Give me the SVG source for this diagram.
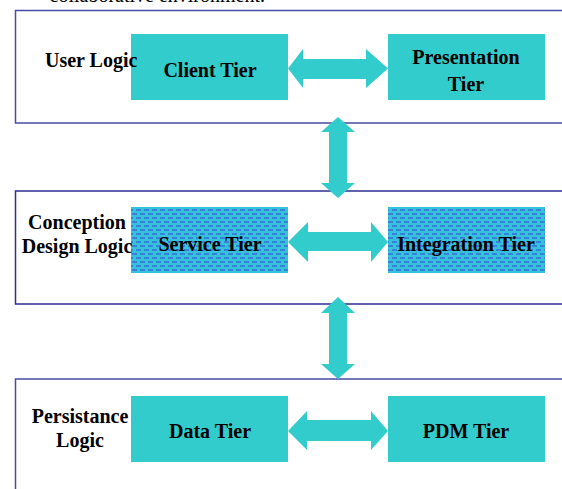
<svg xmlns="http://www.w3.org/2000/svg" width="562" height="489" viewBox="0 0 562 489">
<style>
.frame{fill:none;stroke:#4a4aa8;stroke-width:1.5}
.tier{fill:#33cccc}
.pat{fill:url(#dots)}
.arrow{fill:#33cccc}
text{font-family:"Liberation Serif","Times New Roman",serif;font-size:20px;font-weight:bold;fill:#000}
.c{text-anchor:middle}
</style>
<defs>
<pattern id="dots" x="0" y="0" width="8" height="8" patternUnits="userSpaceOnUse">
<rect width="8" height="8" fill="#33c4dc"/>
<rect x="0" y="1" width="5" height="2" fill="#3a7fdc"/>
<rect x="4" y="5" width="5" height="2" fill="#3a7fdc"/>
<rect x="-4" y="5" width="5" height="2" fill="#3a7fdc"/>
</pattern>
</defs>
<text x="265" y="1.5" text-anchor="end" style="font-weight:normal">collaborative environment.</text>
<g id="client-tier"><rect class="tier" x="131" y="34" width="157" height="66"/><text class="c" x="210" y="77">Client Tier</text></g>
<g id="presentation-tier"><rect class="tier" x="388" y="34" width="157" height="66"/><text class="c" x="466" y="64">Presentation</text><text class="c" x="466" y="91">Tier</text></g>
<g id="service-tier"><rect class="pat" x="131" y="207" width="157" height="66"/><text class="c" x="210" y="251">Service Tier</text></g>
<g id="integration-tier"><rect class="pat" x="388" y="207" width="157" height="66"/><text class="c" x="466" y="251">Integration Tier</text></g>
<g id="data-tier"><rect class="tier" x="131" y="396" width="157" height="66"/><text class="c" x="210" y="438">Data Tier</text></g>
<g id="pdm-tier"><rect class="tier" x="388" y="396" width="157" height="66"/><text class="c" x="466" y="438">PDM Tier</text></g>
<g id="layer-user">
<path class="frame" d="M563,10.5 H15.5 V123 H563"/>
<text x="45" y="67">User Logic</text>
</g>
<g id="layer-design">
<path class="frame" d="M563,191 H15.5 V304 H563" style="stroke:#2e2e92"/>
<text class="c" x="77" y="229">Conception</text>
<text class="c" x="77" y="253">Design Logic</text>
</g>
<g id="layer-persist">
<path class="frame" d="M563,379 H15.5 V490"/>
<text class="c" x="80" y="423">Persistance</text>
<text class="c" x="80" y="447">Logic</text>
</g>
<g id="connectors">
<polygon class="arrow" points="288,68.5 303,49 303,59 366,59 366,49 388,68.5 366,88 366,79 303,79 303,88"/>
<polygon class="arrow" points="288,242 308,222 308,232 371,232 371,222 388,242 371,262 371,251 308,251 308,262"/>
<polygon class="arrow" points="288,431 307,411 307,420 371,420 371,411 388,431 371,450 371,441 307,441 307,450"/>
<polygon class="arrow" points="338,117 355,132 347,132 347,183 355,183 338,198 321,183 329,183 329,132 321,132"/>
<polygon class="arrow" points="338,297 355,313 347,313 347,364 355,364 338,379 321,364 329,364 329,313 321,313"/>
</g>
</svg>
